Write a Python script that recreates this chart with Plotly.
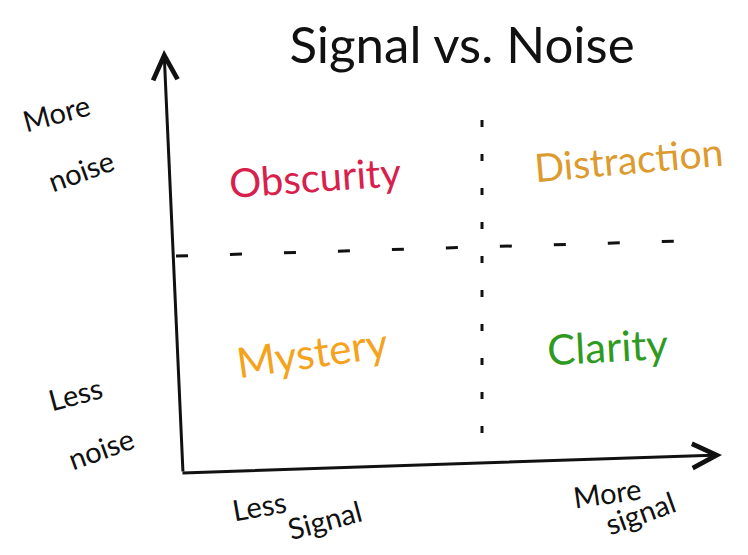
import plotly.graph_objects as go

# ---- chart content -------------------------------------------------------
title_text = "Signal vs. Noise"
quadrant_names = ["Obscurity", "Distraction", "Mystery", "Clarity"]
quadrant_signal = [0.44, 1.49, 0.43, 1.42]   # signal level (x), divider at 1
quadrant_noise = [1.32, 1.40, 0.53, 0.56]    # noise level (y), divider at 1
quadrant_colors = ["#d7214c", "#dd9a2e", "#f5a21c", "#2f9a22"]
quadrant_angles = [-4, -5, -8, -3]

y_axis_words = ["More", "noise", "Less", "noise"]
x_axis_words = ["Less", "Signal", "More", "signal"]

# ---- geometry helpers (pixel -> data) ------------------------------------
W, H = 748, 555
X0_PX, X1_PX = 183, 482   # x = 0 and x = 1
Y0_PX, Y1_PX = 470, 248   # y = 0 and y = 1
SX = X1_PX - X0_PX
SY = Y0_PX - Y1_PX


def dx(px):
    return (px - X0_PX) / SX


def dy(py):
    return (Y0_PX - py) / SY


fig = go.Figure()

# invisible trace to establish axes
fig.add_trace(go.Scatter(x=quadrant_signal, y=quadrant_noise, mode="markers",
                         marker=dict(opacity=0), hoverinfo="skip", showlegend=False))

FONT = "Lato"
INK = "#111111"

annotations = []

# axes drawn as arrows
annotations.append(dict(x=dx(164), y=dy(50), ax=dx(183), ay=dy(473),
                        xref="x", yref="y", axref="x", ayref="y", text="",
                        showarrow=True, arrowhead=5, arrowsize=1.6, arrowwidth=3,
                        arrowcolor=INK, standoff=0, startstandoff=0))
annotations.append(dict(x=dx(722), y=dy(455), ax=dx(181), ay=dy(473),
                        xref="x", yref="y", axref="x", ayref="y", text="",
                        showarrow=True, arrowhead=5, arrowsize=1.6, arrowwidth=3,
                        arrowcolor=INK, standoff=0, startstandoff=0))

# quadrant labels
sizes = [40, 39, 42, 42]
for name, sx, ny, col, ang, sz in zip(quadrant_names, quadrant_signal, quadrant_noise,
                                      quadrant_colors, quadrant_angles, sizes):
    annotations.append(dict(x=sx, y=ny, xref="x", yref="y", text=name,
                            showarrow=False, textangle=ang,
                            font=dict(family=FONT, size=sz, color=col)))

# axis words (hand-lettered, staggered)
word_pos = [(56, 112, -15), (80, 170, -20), (75, 393, -15), (100, 448, -20)]
for wd, (px, py, ang) in zip(y_axis_words, word_pos):
    annotations.append(dict(x=dx(px), y=dy(py), xref="x", yref="y", text=wd,
                            showarrow=False, textangle=ang,
                            font=dict(family=FONT, size=29, color=INK)))
word_pos = [(259, 505, -10), (324, 519, -15), (607, 492, -8), (640, 512, -20)]
for wd, (px, py, ang) in zip(x_axis_words, word_pos):
    annotations.append(dict(x=dx(px), y=dy(py), xref="x", yref="y", text=wd,
                            showarrow=False, textangle=ang,
                            font=dict(family=FONT, size=29, color=INK)))

shapes = [
    # horizontal quadrant divider (dashed)
    dict(type="line", xref="x", yref="y", x0=dx(176), y0=dy(256), x1=dx(714), y1=dy(240),
         line=dict(color=INK, width=3, dash="12px,42px")),
    # vertical quadrant divider (dotted)
    dict(type="line", xref="x", yref="y", x0=1.0, y0=dy(120), x1=1.0, y1=dy(458),
         line=dict(color=INK, width=3, dash="7px,27px")),
]

fig.update_layout(
    width=W, height=H,
    margin=dict(l=0, r=0, t=0, b=0),
    paper_bgcolor="white", plot_bgcolor="white",
    title=dict(text=title_text, x=462 / W, xanchor="center", y=1 - 45 / H, yanchor="middle",
               font=dict(family=FONT, size=51, color=INK)),
    xaxis=dict(range=[dx(0), dx(W)], visible=False, fixedrange=True),
    yaxis=dict(range=[dy(H), dy(0)], visible=False, fixedrange=True),
    annotations=annotations,
    shapes=shapes,
    showlegend=False,
)

fig.write_html("out.html", config={"displayModeBar": False},
               post_script="document.body.style.margin='0';document.body.style.overflow='hidden';")
